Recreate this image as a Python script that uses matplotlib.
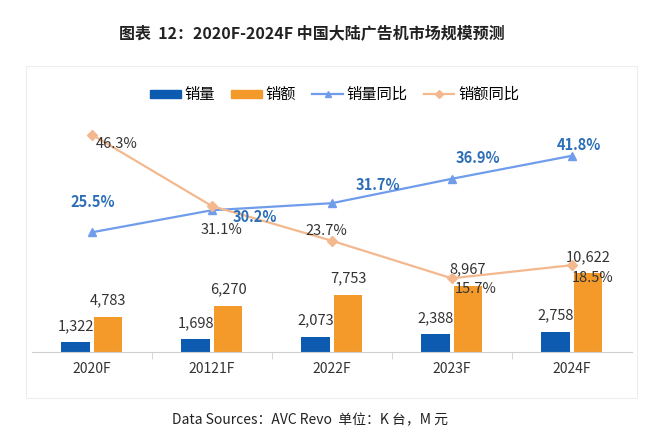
import matplotlib
matplotlib.use("Agg")
import matplotlib.pyplot as plt
from matplotlib.patches import Rectangle
from matplotlib.lines import Line2D
import numpy as np

plt.rcParams['font.family'] = ['Noto Sans CJK SC', 'DejaVu Sans']

years = ["2020F", "20121F", "2022F", "2023F", "2024F"]
volume = [1322, 1698, 2073, 2388, 2758]
revenue = [4783, 6270, 7753, 8967, 10622]
volume_yoy = [25.5, 30.2, 31.7, 36.9, 41.8]
revenue_yoy = [46.3, 31.1, 23.7, 15.7, 18.5]

c_vol = "#0D5BB0"
c_rev = "#F39A2B"
c_vol_line = "#6F9CEB"
c_rev_line = "#F4B88E"
c_vol_txt = "#2C6FB8"

fig = plt.figure(figsize=(6.5, 4.4), dpi=100)
ax = fig.add_axes([0.049, 0.2, 0.923, 0.527])
ax2 = ax.twinx()

x = np.arange(len(years))
w = 0.24
ax.bar(x - 0.135, volume, width=w, color=c_vol)
ax.bar(x + 0.135, revenue, width=w, color=c_rev)
ax.set_ylim(0, 31350)
ax.set_xlim(-0.5, len(years) - 0.5)

for i in range(len(years)):
    ax.annotate("{:,}".format(volume[i]), (x[i] - 0.135, volume[i]), xytext=(0, 6.5),
                textcoords="offset points", ha="center", va="bottom", fontsize=10.5, color="#333333")
    ax.annotate("{:,}".format(revenue[i]), (x[i] + 0.135, revenue[i]), xytext=(0, 6.5),
                textcoords="offset points", ha="center", va="bottom", fontsize=10.5, color="#333333")

ax2.plot(x, volume_yoy, color=c_vol_line, marker="^", markersize=6, linewidth=1.6)
ax2.plot(x, revenue_yoy, color=c_rev_line, marker="D", markersize=5, linewidth=1.6)
ax2.set_ylim(0, 49.4)

# label offsets (points) for each line label
vol_off = [(1, 22), (31, -5), (33, 13), (19, 15), (5, 8)]
rev_off = [(18, -7), (7, -17), (-4, 7), (17, -8), (15, -9)]
for i in range(len(years)):
    ax2.annotate("{:.1f}%".format(volume_yoy[i]), (x[i], volume_yoy[i]), xytext=vol_off[i],
                 textcoords="offset points", ha="center", va="center", fontsize=10.5,
                 fontweight="bold", color=c_vol_txt)
    ax2.annotate("{:.1f}%".format(revenue_yoy[i]), (x[i], revenue_yoy[i]), xytext=rev_off[i],
                 textcoords="offset points", ha="center", va="center", fontsize=10.5,
                 color="#333333")

for a in (ax, ax2):
    a.set_yticks([])
    for s in ("left", "right", "top"):
        a.spines[s].set_visible(False)
    a.spines["bottom"].set_color("#d0d0d0")
ax2.spines["bottom"].set_visible(False)

ax.set_xticks(x)
ax.set_xticklabels(years, fontsize=10, color="#333333")
ax.tick_params(axis="x", length=0, pad=7)
ax.set_xticks(x[:-1] + 0.5, minor=True)
ax.tick_params(axis="x", which="minor", length=5, color="#d0d0d0")

handles = [Rectangle((0, 0), 1, 1, color=c_vol), Rectangle((0, 0), 1, 1, color=c_rev),
           Line2D([], [], color=c_vol_line, marker="^", markersize=5, linewidth=1.6),
           Line2D([], [], color=c_rev_line, marker="D", markersize=4, linewidth=1.6)]
fig.legend(handles, ["销量", "销额", "销量同比", "销额同比"], loc="center",
           bbox_to_anchor=(0.515, 0.785), ncol=4, frameon=False, fontsize=11,
           handlelength=2.0, handleheight=0.45, columnspacing=1.05, handletextpad=0.25)

fig.text(0.48, 0.922, "图表  12：2020F-2024F 中国大陆广告机市场规模预测", ha="center", va="center",
         fontsize=11.5, fontweight="bold", color="#222222")
fig.text(0.477, 0.045, "Data Sources：AVC Revo  单位：K 台，M 元", ha="center", va="center",
         fontsize=10, color="#222222")

fig.add_artist(Rectangle((0.04, 0.095), 0.94, 0.755, transform=fig.transFigure,
                         fill=False, edgecolor="#eeeeee", linewidth=0.8))

fig.savefig("out.png", dpi=100)
